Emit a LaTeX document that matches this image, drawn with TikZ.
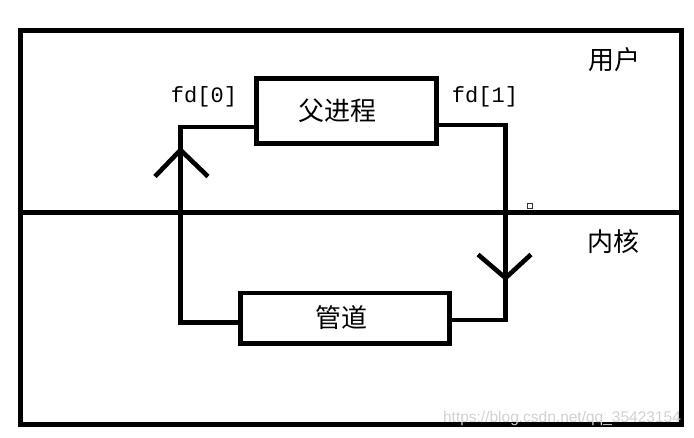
\documentclass[tikz,border=0pt]{standalone}
\usepackage{fontspec}
\newfontfamily\cjk{Noto Sans CJK SC}
\setmonofont{Liberation Mono}
\setsansfont{Liberation Sans}
\begin{document}
\begin{tikzpicture}[x=1pt, y=-1pt, line width=4.6pt,
    box/.style={draw, rectangle, inner sep=0pt, font=\cjk\fontsize{26}{26}\selectfont},
    fdlabel/.style={font=\ttfamily\fontsize{22}{22}\selectfont},
    zone/.style={font=\cjk\fontsize{26}{26}\selectfont}]
    \useasboundingbox (0,0) rectangle (694,437);
    \draw[line width=5pt] (20,30.5) rectangle (681.5,424.5);
    \draw[line width=5pt] (20,212.5) -- (684,212.5);

    \node[zone] (user) at (614,60) {用户};
    \node[zone] (kernel) at (613,242) {内核};

    \node[box, minimum width=180pt, minimum height=65pt] (parent) at (346.5,111) {};
    \node[font=\cjk\fontsize{26}{26}\selectfont] (parenttext) at (337,111) {父进程};
    \node[box, minimum width=209pt, minimum height=50.5pt] (pipe) at (345,318.2) {};
    \node[font=\cjk\fontsize{26}{26}\selectfont] (pipetext) at (341.5,318) {管道};

    \node[fdlabel] (fd0) at (204,97) {fd[0]};
    \node[fdlabel] (fd1) at (485,97) {fd[1]};

    \coordinate (rd) at (180.5,127);
    \coordinate (rdlow) at (180.5,322.5);
    \coordinate (wr) at (505.5,125);
    \coordinate (wrlow) at (505.5,320);

    \draw (parent.west |- rd) -- (rd) -- (rdlow) -- (pipe.west |- rdlow);
    \draw (parent.east |- wr) -- (wr) -- (wrlow) -- (pipe.east |- wrlow);

    \coordinate (uptip) at (180.5,150);
    \draw (155,176.5) -- (uptip) -- (208,176.5);
    \coordinate (downtip) at (505.5,278);
    \draw (478,254.5) -- (downtip) -- (531,254.5);

    \draw[line width=1pt, black!80] (527.5,203.5) rectangle (532.5,208.5);

    \node[text=black!18, font=\sffamily\fontsize{15.5}{15.5}\selectfont] (mark) at (562,418) {https://blog.csdn.net/qq\_35423154};
\end{tikzpicture}
\end{document}
